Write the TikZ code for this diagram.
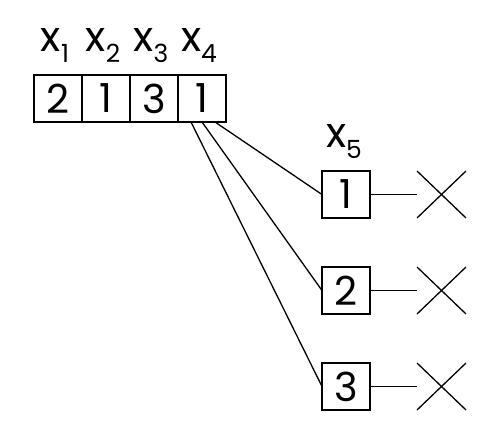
\documentclass[tikz,border=0pt]{standalone}
\usepackage{fontspec}
\setmainfont{Poppins}
\usetikzlibrary{positioning,shapes.misc}
\newcommand{\xsub}[1]{x\raisebox{-11pt}{\fontsize{25}{25}\selectfont #1}}
\tikzset{
  cell/.style={draw,line width=1.3pt,minimum width=48pt,minimum height=47pt,
    inner sep=0pt,outer sep=0pt,font=\fontsize{40}{40}\selectfont},
  lab/.style={inner sep=0pt,font=\fontsize{42}{42}\selectfont},
  kill/.style={cross out,draw,line width=1.3pt,minimum width=49pt,
    minimum height=47pt,inner sep=0pt,outer sep=0pt},
  edge/.style={line width=1.3pt}
}
\begin{document}
\begin{tikzpicture}[x=1pt,y=-1pt]
	\useasboundingbox (0,0) rectangle (500,438);
	
	% first four variables
	\node[cell] (c1) at (58,98.5) {2};
	\node[cell,right=0pt of c1] (c2) {1};
	\node[cell,right=0pt of c2] (c3) {3};
	\node[cell,right=0pt of c3] (c4) {1};
	
	\node[lab,above=12pt of c1,xshift=-3pt] (l1) {\xsub{1}};
	\node[lab,above=12pt of c2,xshift=-3pt] (l2) {\xsub{2}};
	\node[lab,above=12pt of c3,xshift=-3pt] (l3) {\xsub{3}};
	\node[lab,above=12pt of c4,xshift=-3pt] (l4) {\xsub{4}};
	
	% branches for x5
	\node[cell] (b1) at (346,194.5) {1};
	\node[cell,below=49pt of b1] (b2) {2};
	\node[cell,below=49pt of b2] (b3) {3};
	
	\node[lab,above=12pt of b1,xshift=-2pt] (l5) {\xsub{5}};
	
	\node[kill,right=47pt of b1] (k1) {};
	\node[kill,right=47pt of b2] (k2) {};
	\node[kill,right=47pt of b3] (k3) {};
	
	\coordinate (s1) at ([xshift=13pt]c4.south);
	\coordinate (s2) at (c4.south);
	\coordinate (s3) at ([xshift=-11pt]c4.south);
	
	\draw[edge] (s1) -- (b1.west);
	\draw[edge] (s2) -- (b2.west);
	\draw[edge] (s3) -- (b3.west);
	
	\draw[edge] (b1.east) -- (k1.west);
	\draw[edge] (b2.east) -- (k2.west);
	\draw[edge] (b3.east) -- (k3.west);
\end{tikzpicture}
\end{document}
